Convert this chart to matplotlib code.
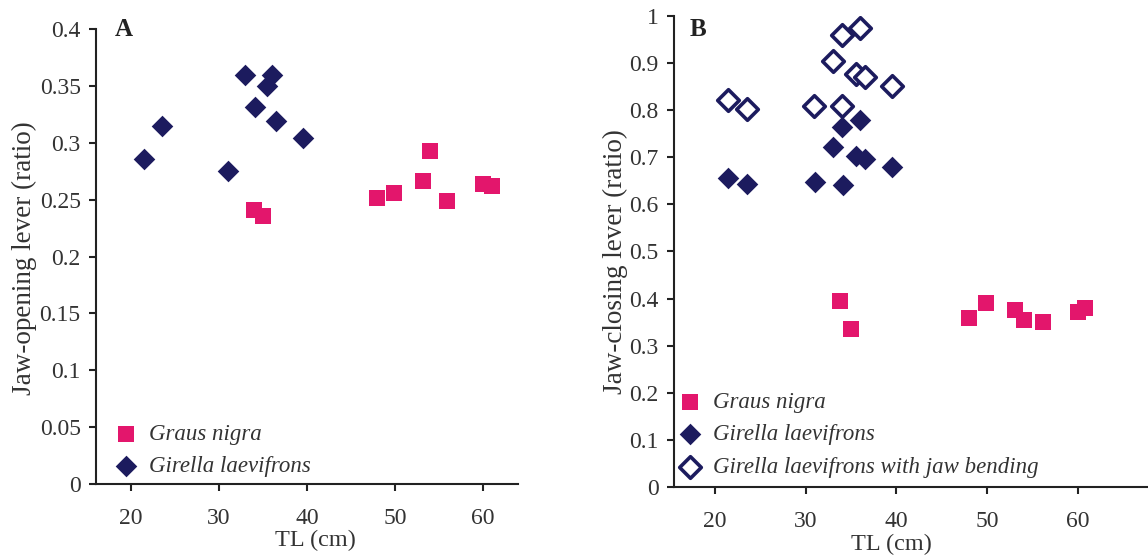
import numpy as np
import matplotlib
matplotlib.use("Agg")
import matplotlib.pyplot as plt


# panel A: jaw-opening lever
a_gn_tl = [34.0, 35.0, 48.0, 49.9, 53.2, 54.0, 55.9, 60.0, 61.0]
a_gn_val = [0.241, 0.236, 0.251, 0.256, 0.266, 0.293, 0.249, 0.264, 0.262]
a_gl_tl = [21.5, 23.5, 31.0, 33.0, 34.1, 36.0, 35.5, 36.5, 39.5]
a_gl_val = [0.286, 0.315, 0.275, 0.360, 0.331, 0.360, 0.350, 0.319, 0.304]

# panel B: jaw-closing lever
b_gn_tl = [33.8, 35.0, 48.0, 49.9, 53.0, 54.0, 56.1, 60.0, 60.8]
b_gn_val = [0.395, 0.335, 0.359, 0.390, 0.376, 0.355, 0.350, 0.372, 0.380]
b_gl_tl = [21.5, 23.5, 31.0, 33.0, 34.0, 34.1, 36.0, 35.5, 36.5, 39.5]
b_gl_val = [0.656, 0.643, 0.648, 0.722, 0.764, 0.641, 0.779, 0.703, 0.696, 0.679]
b_glb_tl = [21.5, 23.5, 30.9, 33.0, 34.0, 36.0, 34.0, 35.5, 36.5, 39.5]
b_glb_val = [0.822, 0.803, 0.809, 0.904, 0.959, 0.974, 0.809, 0.877, 0.870, 0.851]

pink = '#E3166C'
navy = '#1C1B5E'
txt = '#333333'

plt.rcParams['font.family'] = ['Liberation Serif', 'DejaVu Serif']
plt.rcParams['font.size'] = 17

fig = plt.figure(figsize=(11.48, 5.6), dpi=100)
axA = fig.add_axes([0.0836, 0.1357, 0.3676, 0.8125])
axB = fig.add_axes([0.5871, 0.1304, 0.4129, 0.841])


def style(ax):
    for s in ['top', 'right']:
        ax.spines[s].set_visible(False)
    for s in ['left', 'bottom']:
        ax.spines[s].set_linewidth(1.5)
        ax.spines[s].set_color('#222222')
    ax.tick_params(direction='out', length=5, width=1.5, colors='#222222',
                   labelcolor=txt, labelsize=17)
    ax.tick_params(axis='x', pad=12)
    ax.tick_params(axis='y', pad=6)
    ax.set_xticks([20, 30, 40, 50, 60])


sq = 12 ** 2
dm = 11 ** 2
leg_font = {'style': 'italic', 'size': 16.5}
leg_kw = dict(loc='lower left', frameon=False, handletextpad=0.3,
              handlelength=1.4, labelspacing=0.5, borderpad=0.3,
              borderaxespad=0, prop=leg_font, labelcolor=txt)

axA.scatter(a_gn_tl, a_gn_val, marker='s', s=sq, color=pink, linewidths=0,
            label='Graus nigra')
axA.scatter(a_gl_tl, a_gl_val, marker='D', s=dm, color=navy, linewidths=0,
            label='Girella laevifrons')
axA.set_xlim(16, 64)
axA.set_ylim(0, 0.4)
axA.set_yticks(np.arange(0, 0.401, 0.05))
axA.set_yticklabels(['0', '0.05', '0.1', '0.15', '0.2', '0.25', '0.3', '0.35', '0.4'])
style(axA)
axA.set_xlabel('TL (cm)', color=txt, fontsize=17.5)
axA.xaxis.set_label_coords(0.521, -0.10)
axA.set_ylabel('Jaw-opening lever (ratio)', color=txt, fontsize=19.5)
axA.yaxis.set_label_coords(-0.14, 0.497)
axA.text(0.045, 1.0, 'A', transform=axA.transAxes, fontweight='bold',
         fontsize=18, va='center', ha='left', color='#222222')
axA.legend(bbox_to_anchor=(0.017, 0.0), **leg_kw)

axB.scatter(b_gn_tl, b_gn_val, marker='s', s=sq, color=pink, linewidths=0,
            label='Graus nigra')
axB.scatter(b_gl_tl, b_gl_val, marker='D', s=dm, color=navy, linewidths=0,
            label='Girella laevifrons')
axB.scatter(b_glb_tl, b_glb_val, marker='D', s=dm, facecolor='white',
            edgecolor=navy, linewidths=2.6,
            label='Girella laevifrons with jaw bending')
axB.set_xlim(15.5, 67.7)
axB.set_ylim(0, 1)
axB.set_yticks(np.arange(0, 1.01, 0.1))
axB.set_yticklabels(['0', '0.1', '0.2', '0.3', '0.4', '0.5', '0.6', '0.7', '0.8', '0.9', '1'])
style(axB)
axB.set_xlabel('TL (cm)', color=txt, fontsize=17.5)
axB.xaxis.set_label_coords(0.458, -0.10)
axB.set_ylabel('Jaw-closing lever (ratio)', color=txt, fontsize=19.5)
axB.yaxis.set_label_coords(-0.097, 0.478)
axB.text(0.034, 0.972, 'B', transform=axB.transAxes, fontweight='bold',
         fontsize=18, va='center', ha='left', color='#222222')
axB.legend(bbox_to_anchor=(-0.015, 0.005), **leg_kw)

fig.savefig('out.png', dpi=100)
